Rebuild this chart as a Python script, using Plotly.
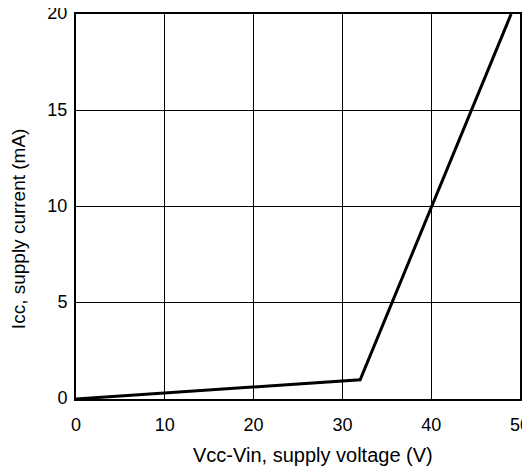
import plotly.graph_objects as go

# supply current vs supply voltage
voltage = [0, 32, 49]
current = [0, 1.0, 20]

x_ticks = [0, 10, 20, 30, 40, 50]
y_ticks = [0, 5, 10, 15, 20]

x_title = "Vcc-Vin, supply voltage (V)"
y_title = "Icc, supply current (mA)"

fig = go.Figure()
fig.add_trace(go.Scatter(
    x=voltage, y=current, mode="lines",
    line=dict(color="black", width=3),
    showlegend=False
))

# the page body has an 8px margin, so the figure is offset by 8px
fig.update_layout(
    width=530, height=465,
    margin=dict(l=68, r=18, t=6, b=74, autoexpand=False),
    plot_bgcolor="white", paper_bgcolor="white",
    font=dict(family="Liberation Sans, Arial", size=18, color="black"),
)
fig.update_xaxes(
    range=[0, 50], tickvals=x_ticks,
    ticks="outside", ticklen=8, tickcolor="rgba(0,0,0,0)",
    ticklabeloverflow="allow",
    showgrid=True, gridcolor="black", gridwidth=1,
    showline=True, linecolor="black", linewidth=2, mirror=True,
    zeroline=False, automargin=False,
)
fig.update_yaxes(
    range=[0, 20], tickvals=y_ticks,
    ticks="outside", ticklen=3, tickcolor="rgba(0,0,0,0)",
    ticklabeloverflow="allow", ticklabelshift=-1,
    showgrid=True, gridcolor="black", gridwidth=1,
    showline=True, linecolor="black", linewidth=2, mirror=True,
    zeroline=False, automargin=False,
)

# axis titles placed as annotations, they sit off-centre in the original
fig.add_annotation(text=x_title, xref="paper", yref="paper",
                   x=0.534, y=-0.146, xanchor="center", yanchor="middle",
                   showarrow=False, font=dict(size=20))
fig.add_annotation(text=y_title, xref="paper", yref="paper",
                   x=-0.128, y=0.4416, xanchor="center", yanchor="middle",
                   textangle=-90, showarrow=False, font=dict(size=19))

fig.write_html("out.html")
